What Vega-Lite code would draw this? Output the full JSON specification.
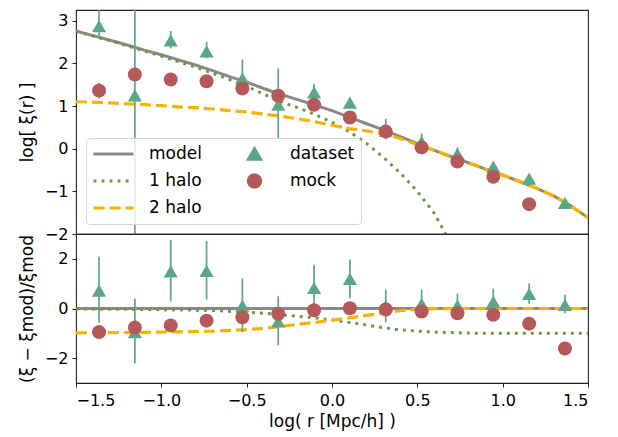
{
  "$schema": "https://vega.github.io/schema/vega-lite/v6.json",
  "padding": {"left": 17, "top": 9, "right": 16, "bottom": 5},
  "spacing": 0,
  "bounds": "flush",
  "config": {
    "font": "DejaVu Sans",
    "view": {"stroke": "#222222", "strokeWidth": 1.1},
    "axis": {"grid": false, "domain": false, "tickColor": "#222222", "tickSize": 4, "labelFontSize": 16, "labelColor": "#000000", "titleFontSize": 17, "titleFontWeight": "normal", "titleColor": "#000000", "labelPadding": 4, "titlePadding": 8}
  },
  "datasets": {
    "top_lines": [
      {"series": "model", "x": -1.5, "y": 2.76}, {"series": "model", "x": -1.4, "y": 2.65}, {"series": "model", "x": -1.3, "y": 2.54}, {"series": "model", "x": -1.2, "y": 2.43}, {"series": "model", "x": -1.1, "y": 2.31}, {"series": "model", "x": -1.0, "y": 2.2}, {"series": "model", "x": -0.9, "y": 2.08}, {"series": "model", "x": -0.8, "y": 1.96}, {"series": "model", "x": -0.7, "y": 1.83}, {"series": "model", "x": -0.6, "y": 1.69}, {"series": "model", "x": -0.5, "y": 1.56}, {"series": "model", "x": -0.4, "y": 1.41}, {"series": "model", "x": -0.3, "y": 1.27}, {"series": "model", "x": -0.2, "y": 1.15}, {"series": "model", "x": -0.1, "y": 1.02}, {"series": "model", "x": 0.0, "y": 0.89}, {"series": "model", "x": 0.1, "y": 0.74}, {"series": "model", "x": 0.2, "y": 0.59}, {"series": "model", "x": 0.3, "y": 0.44}, {"series": "model", "x": 0.4, "y": 0.28}, {"series": "model", "x": 0.5, "y": 0.12}, {"series": "model", "x": 0.6, "y": -0.04}, {"series": "model", "x": 0.7, "y": -0.19}, {"series": "model", "x": 0.8, "y": -0.33}, {"series": "model", "x": 0.9, "y": -0.48}, {"series": "model", "x": 1.0, "y": -0.62}, {"series": "model", "x": 1.1, "y": -0.77}, {"series": "model", "x": 1.2, "y": -0.93}, {"series": "model", "x": 1.3, "y": -1.11}, {"series": "model", "x": 1.4, "y": -1.34}, {"series": "model", "x": 1.5, "y": -1.62},
      {"series": "1 halo", "x": -1.5, "y": 2.75}, {"series": "1 halo", "x": -1.4, "y": 2.64}, {"series": "1 halo", "x": -1.3, "y": 2.53}, {"series": "1 halo", "x": -1.2, "y": 2.41}, {"series": "1 halo", "x": -1.1, "y": 2.29}, {"series": "1 halo", "x": -1.0, "y": 2.17}, {"series": "1 halo", "x": -0.9, "y": 2.04}, {"series": "1 halo", "x": -0.8, "y": 1.91}, {"series": "1 halo", "x": -0.7, "y": 1.77}, {"series": "1 halo", "x": -0.6, "y": 1.62}, {"series": "1 halo", "x": -0.5, "y": 1.46}, {"series": "1 halo", "x": -0.4, "y": 1.28}, {"series": "1 halo", "x": -0.3, "y": 1.1}, {"series": "1 halo", "x": -0.2, "y": 0.96}, {"series": "1 halo", "x": -0.1, "y": 0.8}, {"series": "1 halo", "x": 0.0, "y": 0.62}, {"series": "1 halo", "x": 0.1, "y": 0.4}, {"series": "1 halo", "x": 0.2, "y": 0.13}, {"series": "1 halo", "x": 0.3, "y": -0.2}, {"series": "1 halo", "x": 0.4, "y": -0.57}, {"series": "1 halo", "x": 0.5, "y": -1.0}, {"series": "1 halo", "x": 0.6, "y": -1.52}, {"series": "1 halo", "x": 0.7, "y": -2.25}, {"series": "1 halo", "x": 0.8, "y": -2.9},
      {"series": "2 halo", "x": -1.5, "y": 1.1}, {"series": "2 halo", "x": -1.4, "y": 1.09}, {"series": "2 halo", "x": -1.3, "y": 1.07}, {"series": "2 halo", "x": -1.2, "y": 1.05}, {"series": "2 halo", "x": -1.1, "y": 1.03}, {"series": "2 halo", "x": -1.0, "y": 1.01}, {"series": "2 halo", "x": -0.9, "y": 0.98}, {"series": "2 halo", "x": -0.8, "y": 0.96}, {"series": "2 halo", "x": -0.7, "y": 0.93}, {"series": "2 halo", "x": -0.6, "y": 0.89}, {"series": "2 halo", "x": -0.5, "y": 0.86}, {"series": "2 halo", "x": -0.4, "y": 0.81}, {"series": "2 halo", "x": -0.3, "y": 0.76}, {"series": "2 halo", "x": -0.2, "y": 0.7}, {"series": "2 halo", "x": -0.1, "y": 0.63}, {"series": "2 halo", "x": 0.0, "y": 0.55}, {"series": "2 halo", "x": 0.1, "y": 0.47}, {"series": "2 halo", "x": 0.2, "y": 0.42}, {"series": "2 halo", "x": 0.3, "y": 0.35}, {"series": "2 halo", "x": 0.4, "y": 0.24}, {"series": "2 halo", "x": 0.5, "y": 0.1}, {"series": "2 halo", "x": 0.6, "y": -0.04}, {"series": "2 halo", "x": 0.7, "y": -0.19}, {"series": "2 halo", "x": 0.8, "y": -0.33}, {"series": "2 halo", "x": 0.9, "y": -0.48}, {"series": "2 halo", "x": 1.0, "y": -0.62}, {"series": "2 halo", "x": 1.1, "y": -0.77}, {"series": "2 halo", "x": 1.2, "y": -0.93}, {"series": "2 halo", "x": 1.3, "y": -1.11}, {"series": "2 halo", "x": 1.4, "y": -1.34}, {"series": "2 halo", "x": 1.5, "y": -1.62}
    ],
    "bottom_lines": [
      {"series": "model", "x": -1.5, "y": 0}, {"series": "model", "x": 1.5, "y": 0},
      {"series": "1 halo", "x": -1.5, "y": -0.02}, {"series": "1 halo", "x": -1.3, "y": -0.03}, {"series": "1 halo", "x": -1.1, "y": -0.04}, {"series": "1 halo", "x": -0.9, "y": -0.05}, {"series": "1 halo", "x": -0.7, "y": -0.08}, {"series": "1 halo", "x": -0.5, "y": -0.15}, {"series": "1 halo", "x": -0.4, "y": -0.19}, {"series": "1 halo", "x": -0.3, "y": -0.25}, {"series": "1 halo", "x": -0.2, "y": -0.31}, {"series": "1 halo", "x": -0.1, "y": -0.38}, {"series": "1 halo", "x": 0.0, "y": -0.46}, {"series": "1 halo", "x": 0.1, "y": -0.56}, {"series": "1 halo", "x": 0.2, "y": -0.66}, {"series": "1 halo", "x": 0.3, "y": -0.77}, {"series": "1 halo", "x": 0.4, "y": -0.86}, {"series": "1 halo", "x": 0.5, "y": -0.91}, {"series": "1 halo", "x": 0.6, "y": -0.95}, {"series": "1 halo", "x": 0.7, "y": -0.97}, {"series": "1 halo", "x": 0.8, "y": -0.99}, {"series": "1 halo", "x": 1.0, "y": -1.0}, {"series": "1 halo", "x": 1.5, "y": -1.0},
      {"series": "2 halo", "x": -1.5, "y": -0.98}, {"series": "2 halo", "x": -1.3, "y": -0.97}, {"series": "2 halo", "x": -1.1, "y": -0.96}, {"series": "2 halo", "x": -0.9, "y": -0.94}, {"series": "2 halo", "x": -0.7, "y": -0.91}, {"series": "2 halo", "x": -0.5, "y": -0.85}, {"series": "2 halo", "x": -0.4, "y": -0.8}, {"series": "2 halo", "x": -0.3, "y": -0.72}, {"series": "2 halo", "x": -0.2, "y": -0.64}, {"series": "2 halo", "x": -0.1, "y": -0.56}, {"series": "2 halo", "x": 0.0, "y": -0.47}, {"series": "2 halo", "x": 0.1, "y": -0.38}, {"series": "2 halo", "x": 0.2, "y": -0.28}, {"series": "2 halo", "x": 0.3, "y": -0.18}, {"series": "2 halo", "x": 0.4, "y": -0.09}, {"series": "2 halo", "x": 0.5, "y": -0.03}, {"series": "2 halo", "x": 0.6, "y": -0.01}, {"series": "2 halo", "x": 0.7, "y": 0}, {"series": "2 halo", "x": 1.5, "y": 0}
    ],
    "top_pts": [
      {"series": "dataset", "x": -1.365, "y": 2.87, "lo": 2.6, "hi": 3.4}, {"series": "dataset", "x": -1.155, "y": 1.25, "lo": -3.0, "hi": 4.0}, {"series": "dataset", "x": -0.945, "y": 2.54, "lo": 2.35, "hi": 2.76}, {"series": "dataset", "x": -0.735, "y": 2.28, "lo": 2.12, "hi": 2.5}, {"series": "dataset", "x": -0.525, "y": 1.65, "lo": 1.34, "hi": 2.09}, {"series": "dataset", "x": -0.315, "y": 1.03, "lo": 0.24, "hi": 1.88}, {"series": "dataset", "x": -0.105, "y": 1.32, "lo": 1.1, "hi": 1.52}, {"series": "dataset", "x": 0.105, "y": 1.08, "lo": 0.95, "hi": 1.2}, {"series": "dataset", "x": 0.315, "y": 0.42, "lo": 0.22, "hi": 0.7}, {"series": "dataset", "x": 0.525, "y": 0.16, "lo": 0.0, "hi": 0.36}, {"series": "dataset", "x": 0.735, "y": -0.12, "lo": -0.25, "hi": 0.03}, {"series": "dataset", "x": 0.945, "y": -0.42, "lo": -0.52, "hi": -0.33}, {"series": "dataset", "x": 1.155, "y": -0.7, "lo": -0.78, "hi": -0.62}, {"series": "dataset", "x": 1.365, "y": -1.27, "lo": -1.35, "hi": -1.19},
      {"series": "mock", "x": -1.365, "y": 1.36, "lo": 1.18, "hi": 1.54}, {"series": "mock", "x": -1.155, "y": 1.74, "lo": 1.66, "hi": 1.82}, {"series": "mock", "x": -0.945, "y": 1.62, "lo": 1.55, "hi": 1.69}, {"series": "mock", "x": -0.735, "y": 1.58, "lo": 1.51, "hi": 1.65}, {"series": "mock", "x": -0.525, "y": 1.41, "lo": 1.34, "hi": 1.48}, {"series": "mock", "x": -0.315, "y": 1.24, "lo": 1.17, "hi": 1.31}, {"series": "mock", "x": -0.105, "y": 1.03, "lo": 0.97, "hi": 1.09}, {"series": "mock", "x": 0.105, "y": 0.73, "lo": 0.67, "hi": 0.79}, {"series": "mock", "x": 0.315, "y": 0.4, "lo": 0.34, "hi": 0.46}, {"series": "mock", "x": 0.525, "y": 0.03, "lo": -0.03, "hi": 0.09}, {"series": "mock", "x": 0.735, "y": -0.3, "lo": -0.36, "hi": -0.24}, {"series": "mock", "x": 0.945, "y": -0.66, "lo": -0.72, "hi": -0.6}, {"series": "mock", "x": 1.155, "y": -1.3, "lo": -1.37, "hi": -1.23}
    ],
    "bottom_pts": [
      {"series": "dataset", "x": -1.365, "y": 0.72, "lo": -0.57, "hi": 2.08}, {"series": "dataset", "x": -1.155, "y": -0.95, "lo": -2.21, "hi": 0.39}, {"series": "dataset", "x": -0.945, "y": 1.49, "lo": 0.28, "hi": 2.76}, {"series": "dataset", "x": -0.735, "y": 1.52, "lo": 0.36, "hi": 2.72}, {"series": "dataset", "x": -0.525, "y": 0.12, "lo": -0.95, "hi": 1.21}, {"series": "dataset", "x": -0.315, "y": -0.52, "lo": -1.48, "hi": 0.49}, {"series": "dataset", "x": -0.105, "y": 0.83, "lo": -0.07, "hi": 1.75}, {"series": "dataset", "x": 0.105, "y": 1.19, "lo": 0.41, "hi": 1.97}, {"series": "dataset", "x": 0.315, "y": 0.1, "lo": -0.55, "hi": 0.76}, {"series": "dataset", "x": 0.525, "y": 0.19, "lo": -0.38, "hi": 0.76}, {"series": "dataset", "x": 0.735, "y": 0.12, "lo": -0.36, "hi": 0.6}, {"series": "dataset", "x": 0.945, "y": 0.28, "lo": -0.24, "hi": 0.8}, {"series": "dataset", "x": 1.155, "y": 0.59, "lo": 0.19, "hi": 1.01}, {"series": "dataset", "x": 1.365, "y": 0.15, "lo": -0.19, "hi": 0.55},
      {"series": "mock", "x": -1.365, "y": -0.95, "lo": -1.05, "hi": -0.85}, {"series": "mock", "x": -1.155, "y": -0.77, "lo": -0.87, "hi": -0.67}, {"series": "mock", "x": -0.945, "y": -0.68, "lo": -0.78, "hi": -0.58}, {"series": "mock", "x": -0.735, "y": -0.49, "lo": -0.59, "hi": -0.39}, {"series": "mock", "x": -0.525, "y": -0.35, "lo": -0.45, "hi": -0.25}, {"series": "mock", "x": -0.315, "y": -0.21, "lo": -0.31, "hi": -0.11}, {"series": "mock", "x": -0.105, "y": -0.07, "lo": -0.17, "hi": 0.03}, {"series": "mock", "x": 0.105, "y": 0.01, "lo": -0.09, "hi": 0.11}, {"series": "mock", "x": 0.315, "y": -0.04, "lo": -0.14, "hi": 0.06}, {"series": "mock", "x": 0.525, "y": -0.12, "lo": -0.22, "hi": -0.02}, {"series": "mock", "x": 0.735, "y": -0.19, "lo": -0.29, "hi": -0.09}, {"series": "mock", "x": 0.945, "y": -0.25, "lo": -0.35, "hi": -0.15}, {"series": "mock", "x": 1.155, "y": -0.61, "lo": -0.71, "hi": -0.51}, {"series": "mock", "x": 1.365, "y": -1.61, "lo": -1.71, "hi": -1.51}
    ]
  },
  "resolve": {"scale": {"color": "independent"}, "legend": {"color": "independent"}},
  "vconcat": [
    {
      "width": 512,
      "height": 224,
      "layer": [
        {
          "data": {"name": "top_lines"},
          "transform": [{"filter": "datum.series === 'model'"}],
          "mark": {"type": "line", "clip": true, "strokeWidth": 3},
          "encoding": {
            "x": {"field": "x", "type": "quantitative", "scale": {"domain": [-1.5, 1.5], "nice": false, "zero": false}, "axis": null},
            "y": {"field": "y", "type": "quantitative", "scale": {"domain": [-2, 3.25], "nice": false, "zero": false}, "axis": {"values": [-2, -1, 0, 1, 2, 3], "format": "d", "title": "log[ ξ(r) ]"}},
            "color": {"field": "series", "type": "nominal",
              "scale": {"domain": ["model", "1 halo", "2 halo", "dataset", "mock"], "range": ["#8c8888", "#6a9a48", "#f4b400", "#5aa886", "#b5585a"]},
              "legend": {
                "title": null, "orient": "bottom-left", "offset": 10, "columns": 2,
                "symbolSize": 1600, "symbolStrokeWidth": 3, "labelFontSize": 17, "labelColor": "#000000",
                "labelOffset": 14, "columnPadding": 31, "rowPadding": 7, "clipHeight": 20, "padding": 6,
                "fillColor": "rgba(255,255,255,0.8)", "strokeColor": "#d6d6d6", "cornerRadius": 4, "labelLimit": 300,
                "encode": {
                  "symbols": {"update": {
                    "shape": {"signal": "datum.value === 'dataset' ? 'triangle-up' : datum.value === 'mock' ? 'circle' : 'stroke'"},
                    "size": {"signal": "(datum.value === 'dataset' || datum.value === 'mock') ? 150 : 1600"},
                    "fill": {"signal": "datum.value === 'dataset' ? '#5aa886' : datum.value === 'mock' ? '#b5585a' : 'transparent'"},
                    "stroke": {"signal": "datum.value === 'model' ? '#8c8888' : datum.value === '1 halo' ? '#6a9a48' : datum.value === '2 halo' ? '#f4b400' : 'transparent'"},
                    "strokeWidth": {"value": 3},
                    "strokeDash": {"signal": "datum.value === '1 halo' ? [3, 5] : datum.value === '2 halo' ? [11, 5] : [1, 0]"},
                    "opacity": {"value": 1}
                  }}
                }
              }
            }
          }
        },
        {
          "data": {"name": "top_lines"},
          "transform": [{"filter": "datum.series === '1 halo'"}],
          "mark": {"type": "line", "clip": true, "strokeWidth": 3, "strokeDash": [3, 5]},
          "encoding": {
            "x": {"field": "x", "type": "quantitative"},
            "y": {"field": "y", "type": "quantitative"},
            "color": {"field": "series", "type": "nominal"}
          }
        },
        {
          "data": {"name": "top_lines"},
          "transform": [{"filter": "datum.series === '2 halo'"}],
          "mark": {"type": "line", "clip": true, "strokeWidth": 3.2, "strokeDash": [11, 5]},
          "encoding": {
            "x": {"field": "x", "type": "quantitative"},
            "y": {"field": "y", "type": "quantitative"},
            "color": {"field": "series", "type": "nominal"}
          }
        },
        {
          "data": {"name": "top_pts"},
          "transform": [{"filter": "datum.series === 'dataset'"}],
          "mark": {"type": "rule", "clip": true, "strokeWidth": 1.7},
          "encoding": {
            "x": {"field": "x", "type": "quantitative"},
            "y": {"field": "lo", "type": "quantitative"},
            "y2": {"field": "hi"},
            "color": {"field": "series", "type": "nominal"}
          }
        },
        {
          "data": {"name": "top_pts"},
          "transform": [{"filter": "datum.series === 'dataset'"}],
          "mark": {"type": "point", "shape": "triangle-up", "filled": true, "opacity": 1, "size": 200, "clip": true},
          "encoding": {
            "x": {"field": "x", "type": "quantitative"},
            "y": {"field": "y", "type": "quantitative"},
            "color": {"field": "series", "type": "nominal"}
          }
        },
        {
          "data": {"name": "top_pts"},
          "transform": [{"filter": "datum.series === 'mock'"}],
          "mark": {"type": "rule", "clip": true, "strokeWidth": 1.7},
          "encoding": {
            "x": {"field": "x", "type": "quantitative"},
            "y": {"field": "lo", "type": "quantitative"},
            "y2": {"field": "hi"},
            "color": {"field": "series", "type": "nominal"}
          }
        },
        {
          "data": {"name": "top_pts"},
          "transform": [{"filter": "datum.series === 'mock'"}],
          "mark": {"type": "point", "shape": "circle", "filled": true, "opacity": 1, "size": 196, "clip": true},
          "encoding": {
            "x": {"field": "x", "type": "quantitative"},
            "y": {"field": "y", "type": "quantitative"},
            "color": {"field": "series", "type": "nominal"}
          }
        }
      ]
    },
    {
      "width": 512,
      "height": 149,
      "layer": [
        {
          "data": {"name": "bottom_lines"},
          "transform": [{"filter": "datum.series === 'model'"}],
          "mark": {"type": "line", "clip": true, "strokeWidth": 3, "color": "#8c8888"},
          "encoding": {
            "x": {"field": "x", "type": "quantitative", "scale": {"domain": [-1.5, 1.5], "nice": false, "zero": false},
              "axis": {"values": [-1.5, -1, -0.5, 0, 0.5, 1, 1.5], "format": ".1f", "title": "log( r [Mpc/h] )", "labelPadding": 5, "titlePadding": 5}},
            "y": {"field": "y", "type": "quantitative", "scale": {"domain": [-3, 3], "nice": false, "zero": false}, "axis": {"values": [-2, 0, 2], "format": "d", "title": "(ξ − ξmod)/ξmod"}}
          }
        },
        {
          "data": {"name": "bottom_lines"},
          "transform": [{"filter": "datum.series === '1 halo'"}],
          "mark": {"type": "line", "clip": true, "strokeWidth": 3, "strokeDash": [3, 5], "color": "#6a9a48"},
          "encoding": {
            "x": {"field": "x", "type": "quantitative"},
            "y": {"field": "y", "type": "quantitative"}
          }
        },
        {
          "data": {"name": "bottom_lines"},
          "transform": [{"filter": "datum.series === '2 halo'"}],
          "mark": {"type": "line", "clip": true, "strokeWidth": 3.2, "strokeDash": [11, 5], "color": "#f4b400"},
          "encoding": {
            "x": {"field": "x", "type": "quantitative"},
            "y": {"field": "y", "type": "quantitative"}
          }
        },
        {
          "data": {"name": "bottom_pts"},
          "transform": [{"filter": "datum.series === 'dataset'"}],
          "mark": {"type": "rule", "clip": true, "strokeWidth": 1.7, "color": "#5aa886"},
          "encoding": {
            "x": {"field": "x", "type": "quantitative"},
            "y": {"field": "lo", "type": "quantitative"},
            "y2": {"field": "hi"}
          }
        },
        {
          "data": {"name": "bottom_pts"},
          "transform": [{"filter": "datum.series === 'dataset'"}],
          "mark": {"type": "point", "shape": "triangle-up", "filled": true, "opacity": 1, "size": 200, "color": "#5aa886", "clip": true},
          "encoding": {
            "x": {"field": "x", "type": "quantitative"},
            "y": {"field": "y", "type": "quantitative"}
          }
        },
        {
          "data": {"name": "bottom_pts"},
          "transform": [{"filter": "datum.series === 'mock'"}],
          "mark": {"type": "rule", "clip": true, "strokeWidth": 1.7, "color": "#b5585a"},
          "encoding": {
            "x": {"field": "x", "type": "quantitative"},
            "y": {"field": "lo", "type": "quantitative"},
            "y2": {"field": "hi"}
          }
        },
        {
          "data": {"name": "bottom_pts"},
          "transform": [{"filter": "datum.series === 'mock'"}],
          "mark": {"type": "point", "shape": "circle", "filled": true, "opacity": 1, "size": 196, "color": "#b5585a", "clip": true},
          "encoding": {
            "x": {"field": "x", "type": "quantitative"},
            "y": {"field": "y", "type": "quantitative"}
          }
        }
      ]
    }
  ]
}
